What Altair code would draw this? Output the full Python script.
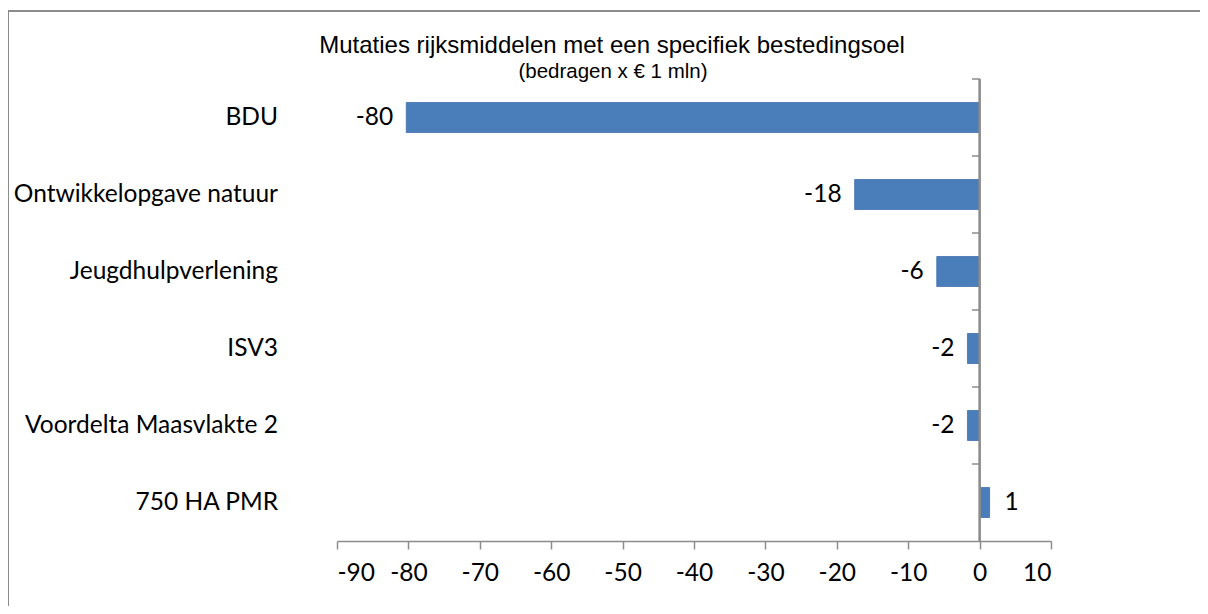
import altair as alt
import pandas as pd

categories = ["BDU", "Ontwikkelopgave natuur", "Jeugdhulpverlening", "ISV3",
              "Voordelta Maasvlakte 2", "750 HA PMR"]
values = [-80.3, -17.5, -6.0, -1.7, -1.7, 1.4]
value_labels = ["-80", "-18", "-6", "-2", "-2", "1"]
x_ticks = [-90, -80, -70, -60, -50, -40, -30, -20, -10, 0, 10]

title_text = "Mutaties rijksmiddelen met een specifiek bestedingsoel"
subtitle_text = "(bedragen x € 1 mln)"

df = pd.DataFrame({"cat": categories, "val": values, "lbl": value_labels})

W, H = 714, 462
PAD_L, PAD_T = 329, 71
STEP = H / len(categories)
LABEL_FONT = "Lato"
LABEL_SIZE = 24.5
GRAY = "#8c8c8c"

xscale = alt.Scale(domain=[-90, 10], nice=False, zero=False)
yscale = alt.Scale(domain=categories, paddingInner=0.61, paddingOuter=0.305)

base = alt.Chart(df)

bars = base.mark_bar(color="#4a7ebb", stroke="#4270ad", strokeWidth=0.8).encode(
    x=alt.X("val:Q", scale=xscale,
            axis=alt.Axis(values=x_ticks, grid=False, title=None, domainColor=GRAY,
                          tickColor=GRAY, tickSize=8, domainWidth=1.5, tickWidth=1.5,
                          labelFont=LABEL_FONT, labelFontSize=LABEL_SIZE, labelColor="#000",
                          labelPadding=12, labelExpr="toString(datum.value)")),
    x2=alt.datum(0),
    y=alt.Y("cat:N", scale=yscale, axis=None, sort=categories),
)

neg_text = base.transform_filter("datum.val < 0").mark_text(
    align="right", baseline="middle", dx=-13, font=LABEL_FONT, fontSize=LABEL_SIZE, color="#000"
).encode(x=alt.X("val:Q", scale=xscale), y=alt.Y("cat:N", scale=yscale, sort=categories),
         text="lbl:N")

pos_text = base.transform_filter("datum.val >= 0").mark_text(
    align="left", baseline="middle", dx=15, font=LABEL_FONT, fontSize=LABEL_SIZE, color="#000"
).encode(x=alt.X("val:Q", scale=xscale), y=alt.Y("cat:N", scale=yscale, sort=categories),
         text="lbl:N")

cat_text = base.mark_text(
    align="right", baseline="middle", font=LABEL_FONT, fontSize=LABEL_SIZE, color="#000"
).encode(x=alt.value(-59), y=alt.Y("cat:N", scale=yscale, sort=categories), text="cat:N")

zero_line = base.mark_rule(color=GRAY, strokeWidth=1.5).encode(
    x=alt.datum(0), y=alt.value(0), y2=alt.value(H))

band_ticks = base.mark_rule(color=GRAY, strokeWidth=1.5, yOffset=-STEP / 2).encode(
    x=alt.value(643 - 8), x2=alt.value(643),
    y=alt.Y("cat:N", scale=yscale, sort=categories))

frame_left = base.mark_rule(color=GRAY, strokeWidth=2).encode(
    x=alt.value(-PAD_L), y=alt.value(3 - PAD_T), y2=alt.value(H + 200))
frame_top = base.mark_rule(color=GRAY, strokeWidth=2).encode(
    x=alt.value(-PAD_L), x2=alt.value(W + 200), y=alt.value(3 - PAD_T))

title = alt.Chart(pd.DataFrame({"t": [title_text]})).mark_text(
    font="Liberation Sans", fontSize=24, color="#000", align="center", baseline="middle"
).encode(x=alt.value(612 - 337), y=alt.value(46 - 79), text="t:N")

subtitle = alt.Chart(pd.DataFrame({"t": [subtitle_text]})).mark_text(
    font="Liberation Sans", fontSize=20.5, color="#000", align="center", baseline="middle"
).encode(x=alt.value(613 - 337), y=alt.value(72 - 79), text="t:N")

chart = alt.layer(
    bars, zero_line, band_ticks, neg_text, pos_text, cat_text,
    frame_left, frame_top, title, subtitle
).properties(
    width=W, height=H,
    background="white",
    autosize=alt.AutoSizeParams(type="none"),
    padding={"left": PAD_L, "top": PAD_T, "right": 1192 - PAD_L - W, "bottom": 598 - PAD_T - H},
).configure_view(strokeWidth=0, stroke="transparent")

chart.save("out.html", embed_options={"renderer": "svg", "actions": False})
